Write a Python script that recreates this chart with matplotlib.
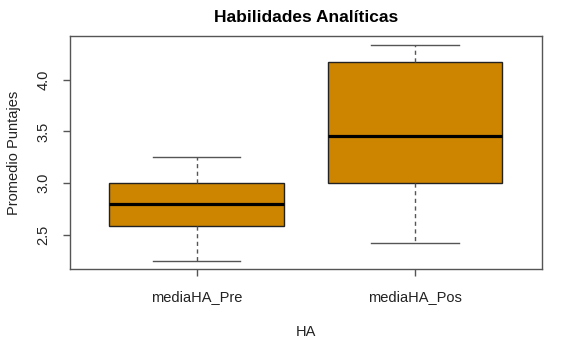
import matplotlib
matplotlib.use("Agg")
import matplotlib.pyplot as plt

plt.rcParams['font.family'] = ['Liberation Sans', 'DejaVu Sans']

# valores
grupos = ["mediaHA_Pre", "mediaHA_Pos"]
minimo = [2.25, 2.42]
q1 = [2.59, 3.00]
mediana = [2.80, 3.46]
q3 = [3.00, 4.17]
maximo = [3.25, 4.34]
yticks = [2.5, 3.0, 3.5, 4.0]

stats = []
for i in range(len(grupos)):
    stats.append({'label': grupos[i], 'whislo': minimo[i], 'q1': q1[i], 'med': mediana[i],
                  'q3': q3[i], 'whishi': maximo[i], 'fliers': []})

fig = plt.figure(figsize=(5.78, 3.56), dpi=100)
ax = fig.add_axes([0.1211, 0.2435, 0.8161, 0.6554])

gris = "#555555"
ax.bxp(stats, positions=[1, 2], widths=0.8, patch_artist=True, showfliers=False,
       boxprops=dict(facecolor="#CD8500", edgecolor="#222222", linewidth=1),
       medianprops=dict(color="black", linewidth=2.3),
       whiskerprops=dict(color=gris, linestyle=(0, (3, 2.5)), linewidth=1),
       capprops=dict(color=gris, linewidth=1), capwidths=0.4)

rango = max(maximo) - min(minimo)
ax.set_ylim(min(minimo) - 0.04 * rango, max(maximo) + 0.04 * rango)
ax.set_xlim(0.42, 2.58)
ax.set_yticks(yticks)
ax.set_yticklabels([str(v) for v in yticks], rotation=90, va='center')
ax.set_xticks([1, 2])
ax.set_xticklabels(grupos)

for s in ax.spines.values():
    s.set_color(gris)
    s.set_linewidth(1)
ax.tick_params(colors=gris, labelcolor="#222222", labelsize=10.5, length=5, width=1)
ax.tick_params(axis='x', pad=10)
ax.tick_params(axis='y', pad=9)

ax.set_title("Habilidades Analíticas", fontsize=12.5, fontweight='bold', pad=10)
ax.set_xlabel("HA", fontsize=10.5, labelpad=15, color="#222222")
ax.set_ylabel("Promedio Puntajes", fontsize=10.5, labelpad=11, color="#222222")

fig.savefig("out.png", dpi=100)
